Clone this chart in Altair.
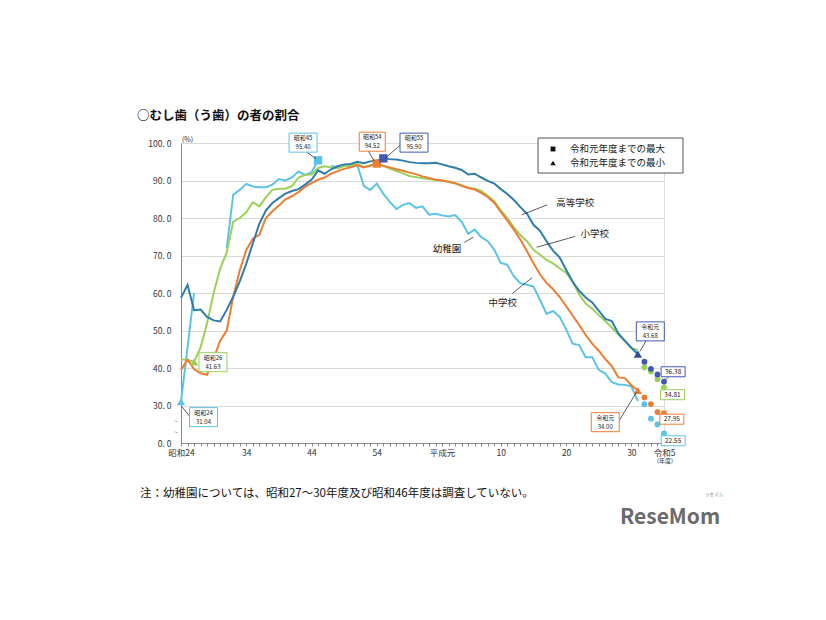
import altair as alt
import pandas as pd

FONT = "Noto Sans CJK JP"

# ---------------- data ----------------
years = list(range(1949, 2020))

kindergarten = [31.04, 45.5, 60.0, None, None, None, None, 72.0, 86.2, 87.5,
                89.1, 88.4, 88.2, 88.2, 88.9, 90.4, 90.0, 90.8, 92.4, 91.5,
                92.2, 95.40, None, 93.9, 93.6, 94.0, 93.8, 94.2, 88.6, 87.5,
                89.2, 86.4, 84.3, 82.4, 83.5, 84.0, 82.7, 83.1, 80.9, 81.1,
                80.7, 80.4, 80.8, 79.0, 75.8, 76.9, 74.9, 73.8, 71.5, 68.0,
                67.5, 64.4, 62.6, 62.2, 61.7, 58.2, 54.4, 55.2, 53.7, 50.3,
                46.5, 46.1, 42.9, 42.9, 39.5, 38.5, 36.2, 35.6, 35.5, 35.1,
                31.16]

elementary = [42.3, 42.2, 41.63, 45.5, 52.0, 60.0, 66.5, 70.8, 79.0, 80.0,
              81.5, 84.2, 83.1, 85.5, 87.5, 87.8, 87.8, 88.5, 90.8, 91.5,
              91.6, 93.3, 93.8, 93.5, 93.3, 93.8, 94.0, 94.4, 93.6, 94.1,
              94.5, 93.9, 93.2, 92.5, 91.9, 91.2, 90.9, 90.6, 90.4, 90.1,
              90.0, 89.6, 89.2, 88.7, 88.1, 87.8, 87.2, 85.9, 84.5, 82.0,
              80.0, 77.5, 75.4, 73.8, 71.5, 70.2, 68.8, 67.9, 66.6, 65.4,
              63.1, 59.6, 57.2, 55.8, 54.1, 52.5, 50.8, 48.9, 47.1, 45.3,
              44.82]

junior_high = [39.5, 42.2, 39.7, 38.6, 38.2, 42.5, 47.3, 50.0, 59.0, 66.0,
               71.5, 74.5, 75.5, 80.0, 81.8, 83.3, 85.0, 85.8, 86.9, 88.3,
               89.3, 90.2, 90.8, 91.8, 92.5, 93.1, 93.5, 94.1, 93.5, 93.9,
               94.52, 93.9, 93.5, 93.0, 92.6, 92.1, 91.7, 91.1, 90.7, 90.2,
               90.0, 89.7, 89.3, 88.6, 88.0, 87.6, 86.7, 85.6, 84.0, 81.6,
               79.3, 76.9, 74.2, 71.2, 67.9, 65.0, 62.7, 61.0, 59.0, 56.5,
               54.0, 51.5, 48.8, 46.5, 44.6, 42.4, 40.5, 37.5, 37.3, 35.4,
               34.00]

high_school = [58.7, 62.2, 55.4, 55.6, 53.6, 52.7, 52.4, 55.5, 59.0, 63.1,
               67.8, 73.2, 78.5, 82.0, 84.0, 85.3, 86.5, 87.2, 87.7, 88.9,
               90.2, 92.7, 91.8, 93.0, 93.8, 94.3, 94.4, 95.0, 94.6, 95.1,
               95.3, 95.90, 95.7, 95.6, 95.3, 94.9, 94.7, 94.6, 94.6, 94.7,
               94.3, 93.8, 93.4, 92.8, 91.6, 91.8, 90.8, 89.9, 89.2, 87.7,
               86.4, 84.8, 82.9, 81.2, 78.2, 76.6, 73.8, 71.3, 69.5, 66.2,
               63.0, 60.6, 58.8, 57.5, 55.3, 53.1, 52.5, 49.2, 47.3, 45.4,
               43.68]

recent_years = [2020, 2021, 2022, 2023]
kindergarten_recent = [30.34, 26.49, 24.93, 22.55]
elementary_recent = [40.21, 39.04, 37.02, 34.81]
junior_high_recent = [32.16, 30.38, 28.24, 27.95]
high_school_recent = [41.66, 39.77, 38.30, 36.38]

series_names = ["幼稚園", "小学校", "中学校", "高等学校"]

# maxima / minima up to 令和元
max_years = [1970, 1979, 1980]
max_values = [95.40, 94.52, 95.90]
min_years = [1949, 1951, 2019, 2019]
min_values = [31.04, 41.63, 43.68, 34.00]

xtick_years = [1949, 1959, 1969, 1979, 1989, 1998, 2008, 2018, 2023]
xtick_labels = ["昭和24", "34", "44", "54", "平成元", "10", "20", "30", "令和5"]
ytick_values = [20, 30, 40, 50, 60, 70, 80, 90, 100]

# ---------------- styles ----------------
C_KG = "#5CC3E8"
C_EL = "#9BD05A"
C_JH = "#EE7D31"
C_HS = "#2E7DAA"
C_HS_MARK = "#4258B8"
C_HS_MIN = "#2F4C9C"
series_colors = [C_KG, C_EL, C_JH, C_HS]

PX_PER_YEAR = 483 / 74
PX_PER_UNIT = 300 / 80

xscale = alt.Scale(domain=[1949, 2023], nice=False, zero=False)
yscale = alt.Scale(domain=[20, 100], nice=False, zero=False)

label_expr_x = "".join(f"datum.value == {yv} ? '{lab}' : " for yv, lab in zip(xtick_years, xtick_labels)) + "''"

xaxis = alt.Axis(values=list(range(1949, 2024)), labelExpr=label_expr_x, title=None, grid=False,
                 tickSize=3, tickColor="#8a8a8a", domainColor="#8a8a8a", labelFontSize=8.5,
                 labelColor="#333333", labelPadding=2, labelOverlap=False, labelFlush=False,
                 labelFont=FONT)
yaxis = alt.Axis(values=ytick_values,
                 labelExpr="datum.value == 20 ? '0. 0' : replace(format(datum.value, '.1f'), '.', '. ')",
                 title=None, grid=True, gridColor="#d9d9d9", gridWidth=1, ticks=False,
                 domainColor="#8a8a8a", labelPadding=10, labelFontSize=8.5, labelColor="#333333",
                 labelFont=FONT)


def X(f):
    return alt.X(f"{f}:Q", scale=xscale, axis=xaxis)


def Y(f):
    return alt.Y(f"{f}:Q", scale=yscale, axis=yaxis)


# ---------------- lines ----------------
layers = []
all_series = [kindergarten, elementary, junior_high, high_school]
for name, vals, col in zip(series_names, all_series, series_colors):
    rows = []
    seg = 0
    for yr, v in zip(years, vals):
        if v is None:
            seg += 1
            continue
        rows.append({"year": yr, "value": v, "seg": seg})
    df = pd.DataFrame(rows)
    layers.append(
        alt.Chart(df).mark_line(color=col, strokeWidth=2).encode(
            x=X("year"), y=Y("value"), detail="seg:N"
        )
    )

# recent dots
recent_all = [kindergarten_recent, elementary_recent, junior_high_recent, high_school_recent]
dot_colors = [C_KG, C_EL, C_JH, C_HS_MARK]
dots = pd.DataFrame([
    {"year": yr, "value": v, "c": col}
    for vals, col in zip(recent_all, dot_colors)
    for yr, v in zip(recent_years, vals)
])
layers.append(alt.Chart(dots).mark_circle(size=34, opacity=1).encode(
    x=X("year"), y=Y("value"), color=alt.Color("c:N", scale=None)))

# max squares
maxdf = pd.DataFrame({"year": max_years, "value": max_values, "c": [C_KG, C_JH, C_HS_MARK]})
layers.append(alt.Chart(maxdf).mark_square(size=70, opacity=1).encode(
    x=X("year"), y=Y("value"), color=alt.Color("c:N", scale=None)))

# min triangles
mindf = pd.DataFrame({"year": min_years, "value": min_values, "c": [C_KG, C_EL, C_HS_MIN, C_JH]})
layers.append(alt.Chart(mindf).mark_point(shape="triangle-up", filled=True, size=70, opacity=1).encode(
    x=X("year"), y=Y("value"), color=alt.Color("c:N", scale=None)))

# leader lines (data coordinates)
lead_x1 = [1967.9, 1977.6, 1982.8, 1949.15, 2020.3, 2016.0, 2023.2, 2005.1, 2009.4, 1993.8, 1999.7]
lead_y1 = [98.0, 98.2, 99.7, 29.7, 47.4, 25.6, 36.8, 83.5, 75.1, 74.9, 59.8]
lead_x2 = [1969.7, 1978.6, 1980.3, 1950.6, 2019.3, 2018.8, 2023.9, 2001.2, 2003.5, 1992.4, 2002.8]
lead_y2 = [95.8, 95.2, 96.0, 26.5, 44.4, 33.6, 38.0, 80.85, 72.2, 73.5, 64.1]
leads = pd.DataFrame({"x1": lead_x1, "y1": lead_y1, "x2": lead_x2, "y2": lead_y2})
layers.append(alt.Chart(leads).mark_rule(color="#333333", strokeWidth=0.8).encode(
    x=X("x1"), y=Y("y1"), x2="x2:Q", y2="y2:Q"))

# annotation boxes
ann_text = ["昭和45\n95.40", "昭和54\n94.52", "昭和55\n95.90", "昭和26\n41.63", "昭和24\n31.04",
            "令和元\n43.68", "令和元\n34.00", "36.38", "34.81", "27.95", "22.55"]
ann_year = [1967.7, 1978.3, 1984.7, 1953.9, 1952.45, 2020.9, 2014.0, 2024.4, 2024.3, 2024.2, 2024.4]
ann_val = [100.1, 100.35, 100.1, 41.55, 26.9, 49.76, 25.55, 39.0, 32.88, 26.35, 20.6]
ann_w = [28, 26, 28, 28, 28, 28, 28, 24, 24, 24, 24]
ann_h = [19, 19, 19, 19, 19, 19, 19, 10, 10, 10, 10]
ann_color = [C_KG, C_JH, C_HS_MARK, C_EL, C_KG, C_HS_MARK, C_JH, C_HS_MARK, C_EL, C_JH, C_KG]
ann = pd.DataFrame({"t": ann_text, "cx": ann_year, "cy": ann_val, "w": ann_w, "h": ann_h, "c": ann_color})
ann["x1"] = ann["cx"] - ann["w"] / 2 / PX_PER_YEAR
ann["x2"] = ann["cx"] + ann["w"] / 2 / PX_PER_YEAR
ann["y1"] = ann["cy"] - ann["h"] / 2 / PX_PER_UNIT
ann["y2"] = ann["cy"] + ann["h"] / 2 / PX_PER_UNIT
ann["lines"] = ann["t"].str.split("\n")
ann["top"] = ann["lines"].str[0]
ann["bottom"] = ann["lines"].str[-1]
two = ann[ann["lines"].str.len() == 2]
single = ann[ann["lines"].str.len() == 1]

layers.append(alt.Chart(ann).mark_rect(fill="white", strokeWidth=1).encode(
    x=X("x1"), x2="x2:Q", y=Y("y1"), y2="y2:Q", stroke=alt.Stroke("c:N", scale=None)))
layers.append(alt.Chart(two).mark_text(fontSize=6, color="#222222", font=FONT, baseline="middle",
                                       dy=-4.5).encode(x=X("cx"), y=Y("cy"), text="top:N"))
layers.append(alt.Chart(two).mark_text(fontSize=6, color="#222222", font=FONT, baseline="middle",
                                       dy=4.5).encode(x=X("cx"), y=Y("cy"), text="bottom:N"))
layers.append(alt.Chart(single).mark_text(fontSize=6.5, color="#222222", font=FONT,
                                          baseline="middle").encode(x=X("cx"), y=Y("cy"), text="top:N"))

# series labels
lab = pd.DataFrame({"t": ["高等学校", "小学校", "幼稚園", "中学校"],
                    "x": [2009.4, 2012.4, 1989.75, 1998.3],
                    "y": [84.05, 75.8, 71.8, 57.4]})
layers.append(alt.Chart(lab).mark_text(fontSize=9.5, color="#222222", font=FONT).encode(
    x=X("x"), y=Y("y"), text="t:N"))

# ---------------- decorations (pixel positions relative to plot) ----------------
one = pd.DataFrame({"a": [0]})


def txt(s, x, y, size, **kw):
    return alt.Chart(one).mark_text(text=s, fontSize=size, font=FONT, baseline="middle",
                                    **kw).encode(x=alt.value(x), y=alt.value(y))


layers.append(txt("○むし歯（う歯）の者の割合", -44, -27, 12.5, align="left", fontWeight="bold", color="#111111"))
layers.append(txt("(%)", 1, -3, 7, align="left", color="#333333"))
layers.append(txt("~", -5, 279, 7, align="center", color="#777777"))
layers.append(txt("~", -5, 290, 7, align="center", color="#777777"))
layers.append(txt("(年度)", 484, 318, 6, align="center", color="#333333"))
layers.append(txt("注：幼稚園については、昭和27〜30年度及び昭和46年度は調査していない。", -41, 351, 11.5,
                  align="left", color="#111111"))
layers.append(txt("ReseMom", 439, 375, 21, align="left", fontWeight="bold", color="#6b6b6b"))
layers.append(txt("リセマム", 533, 352, 4.5, align="center", color="#888888"))

# legend box
layers.append(alt.Chart(one).mark_rect(fill="white", stroke="#555555", strokeWidth=1).encode(
    x=alt.value(357), x2=alt.value(502), y=alt.value(-5), y2=alt.value(30)))
layers.append(alt.Chart(one).mark_point(shape="square", filled=True, size=24, color="#111111", opacity=1).encode(
    x=alt.value(372), y=alt.value(6)))
layers.append(alt.Chart(one).mark_point(shape="triangle-up", filled=True, size=30, color="#111111", opacity=1).encode(
    x=alt.value(372), y=alt.value(20)))
layers.append(txt("令和元年度までの最大", 389, 6, 9.5, align="left", color="#222222"))
layers.append(txt("令和元年度までの最小", 389, 20, 9.5, align="left", color="#222222"))

chart = alt.layer(*layers).properties(
    width=483, height=300,
    padding={"left": 181, "top": 143, "right": 162, "bottom": 177},
    autosize=alt.AutoSizeParams(type="none"),
    background="white",
).configure_view(stroke=None).configure(font=FONT)

chart.save("out.html", embed_options={"renderer": "svg", "actions": False})
